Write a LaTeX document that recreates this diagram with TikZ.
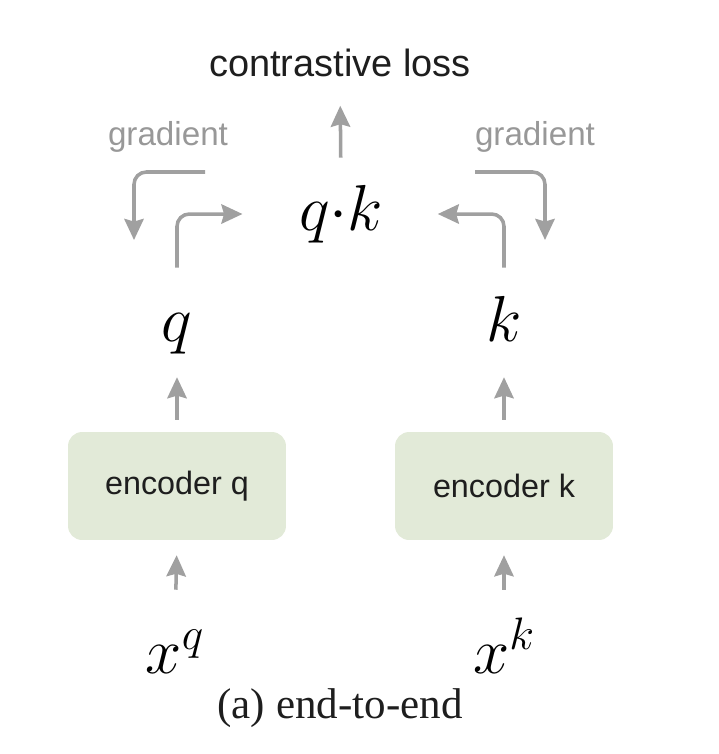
\RequirePackage{fix-cm}
\documentclass[tikz,border=0pt]{standalone}
\usepackage{fontspec}
\setmainfont{Liberation Serif}
\setsansfont{Liberation Sans}
\usetikzlibrary{positioning, arrows.meta, calc}

\definecolor{encgreen}{RGB}{226,234,216}
\definecolor{arrowgray}{RGB}{160,160,160}
\definecolor{gradgray}{RGB}{152,152,152}
\definecolor{textdark}{RGB}{30,30,30}

\tikzset{
  encoder/.style={fill=encgreen, rounded corners=8pt, minimum width=4.36cm,
    minimum height=2.16cm, text=textdark,
    font=\sffamily\fontsize{18.4}{22}\selectfont},
  mathlbl/.style={anchor=base, inner sep=0pt, text height=25.6pt, text depth=7.4pt,
    font=\fontsize{37}{44}\selectfont},
  gradlbl/.style={anchor=base, inner sep=0pt, text=gradgray,
    font=\sffamily\fontsize{18.9}{22}\selectfont},
  flow/.style={draw=arrowgray, line width=2pt,
    -{Stealth[length=12pt, width=11pt, inset=1.5pt]}},
}

\begin{document}
\begin{tikzpicture}[x=0.02cm, y=-0.02cm]
  \useasboundingbox (0,0) rectangle (718,754);

  % loss and similarity
  \node[anchor=base, inner sep=0pt, text=textdark,
        font=\sffamily\fontsize{21.6}{26}\selectfont] (loss) at (340,76) {contrastive loss};
  \node[mathlbl] (qk) at (341,230) {$q{\cdot}k$};
  \node[gradlbl] (gradq) at (168,145) {gradient};
  \node[gradlbl] (gradk) at (535,145) {gradient};

  % query and key branches
  \node[mathlbl] (q) at (177,341) {$q$};
  \node[mathlbl] (k) at (504,341) {$k$};
  \node[encoder] (encq) at (177,486) {encoder q};
  \node[encoder] (enck) at (504,486) {encoder k};
  \node[mathlbl] (xq) at (175,673) {$x^q$};
  \node[mathlbl] (xk) at (504,673) {$x^k$};

  \node[anchor=base, inner sep=0pt, text=textdark,
        font=\fontsize{24.5}{29}\selectfont] (caption) at (340,718) {(a) end-to-end};

  % forward arrows
  \draw[flow, shorten <=21.6pt, shorten >=8.5pt] (xq.north) -- (encq.south);
  \draw[flow, shorten <=21.6pt, shorten >=8.5pt] (xk.north) -- (enck.south);
  \draw[flow, shorten <=6.8pt, shorten >=13pt] (encq.north) -- (q.south);
  \draw[flow, shorten <=6.8pt, shorten >=13pt] (enck.north) -- (k.south);
  \draw[flow, rounded corners=7pt, shorten <=16pt, shorten >=32pt] (q.north) |- (qk.west);
  \draw[flow, rounded corners=7pt, shorten <=16pt, shorten >=31pt] (k.north) |- (qk.east);
  \draw[flow, shorten <=15.4pt, shorten >=16.5pt] (qk.north) -- (loss.south);

  % gradients flowing back
  \coordinate (gq1) at (205,172);
  \coordinate (gq2) at (134,240);
  \coordinate (gk1) at (475,172);
  \coordinate (gk2) at (545,240);
  \draw[flow, rounded corners=7pt] (gq1) -| (gq2);
  \draw[flow, rounded corners=7pt] (gk1) -| (gk2);
\end{tikzpicture}
\end{document}
